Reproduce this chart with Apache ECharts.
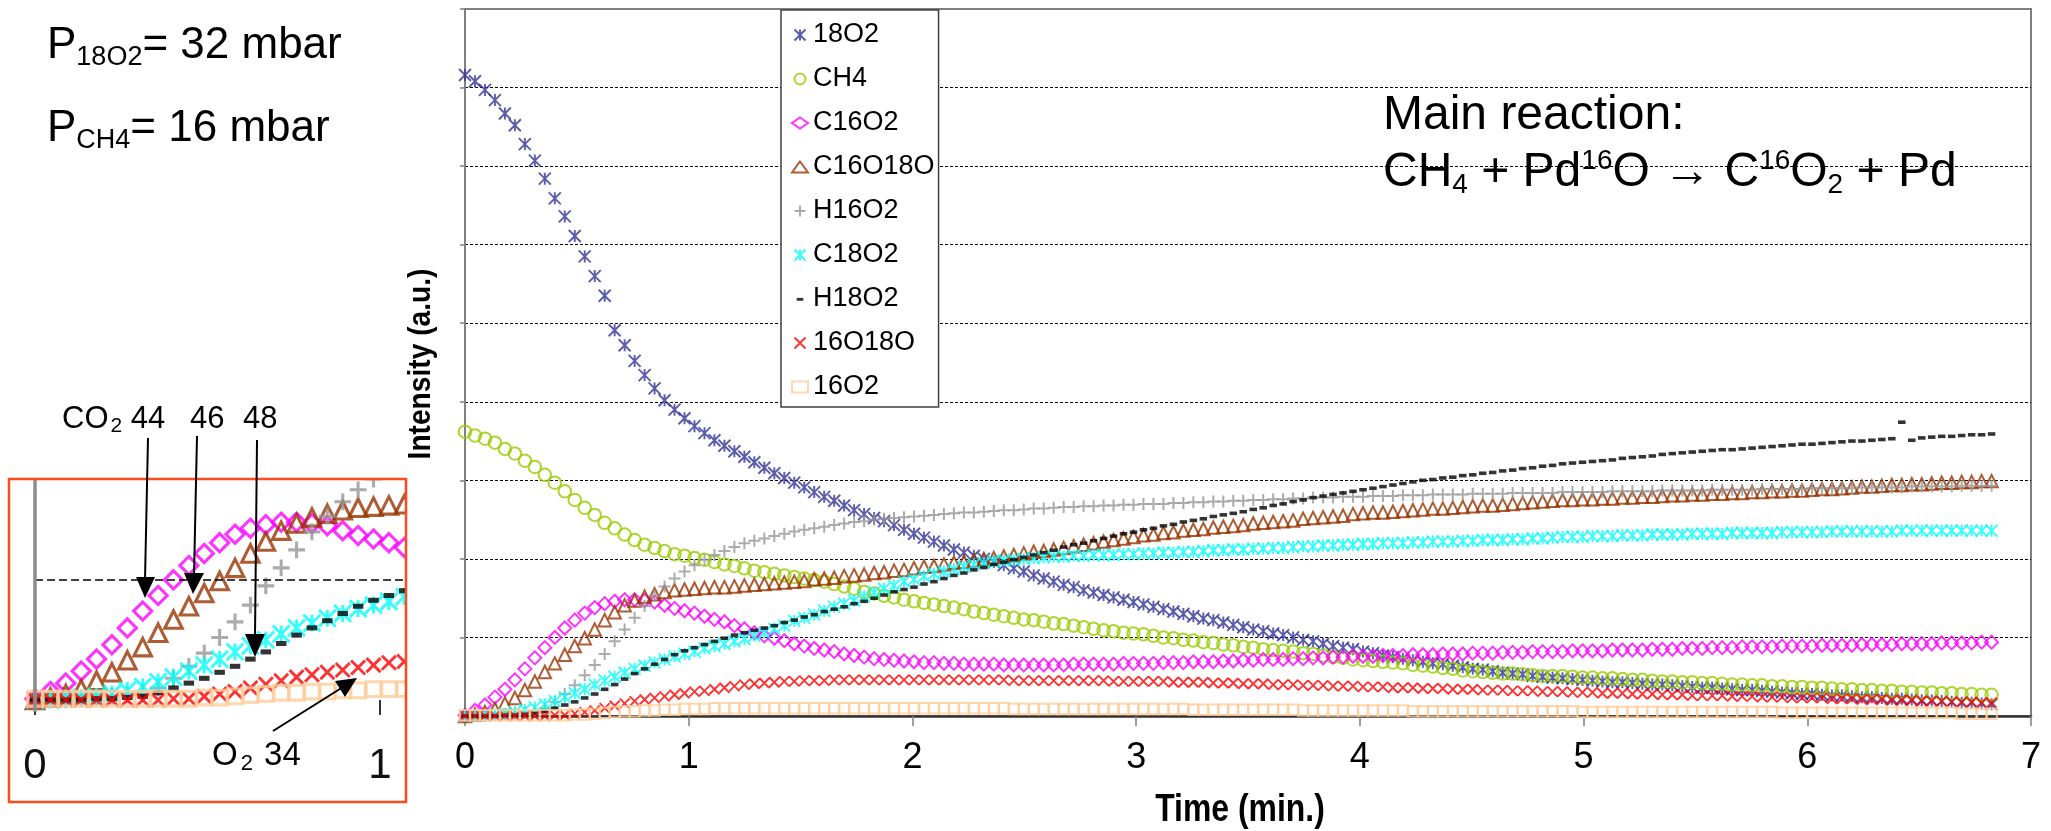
<!DOCTYPE html>
<html>
<head>
<meta charset="utf-8">
<script src="https://cdn.jsdelivr.net/npm/echarts@6.0.0/dist/echarts.min.js"></script>
<style>
  html, body { margin: 0; padding: 0; background: #fff; }
  #chart { width: 2051px; height: 831px; }
</style>
</head>
<body>
<div id="chart"></div>
<script>
// Mass-spectrometer signals recorded every ~2.7 s (0.0446 min) during CH4 oxidation on Pd18O/Pd16O
const sampleStepMin = 0.0446;

const seriesNames = ['18O2', 'CH4', 'C16O2', 'C16O18O', 'H16O2', 'C18O2', 'H18O2', '16O18O', '16O2'];

const o18O2 = [8.16,8.08,7.97,7.84,7.67,7.52,7.28,7.07,6.84,6.59,
  6.36,6.11,5.85,5.60,5.35,4.91,4.72,4.52,4.34,4.17,
  4.02,3.90,3.79,3.69,3.60,3.51,3.44,3.37,3.30,3.23,
  3.16,3.09,3.03,2.97,2.91,2.85,2.79,2.74,2.68,2.62,
  2.57,2.52,2.48,2.43,2.37,2.32,2.27,2.22,2.17,2.12,
  2.08,2.04,2.00,1.96,1.92,1.88,1.84,1.79,1.75,1.71,
  1.67,1.64,1.60,1.57,1.54,1.51,1.48,1.45,1.42,1.39,
  1.36,1.33,1.30,1.27,1.24,1.22,1.19,1.16,1.13,1.10,
  1.08,1.05,1.03,1.00,0.97,0.95,0.92,0.89,0.87,0.85,
  0.82,0.80,0.77,0.75,0.73,0.71,0.69,0.67,0.66,0.64,
  0.62,0.60,0.59,0.57,0.55,0.54,0.53,0.51,0.50,0.49,
  0.48,0.47,0.46,0.45,0.44,0.43,0.43,0.42,0.41,0.40,
  0.40,0.39,0.38,0.37,0.36,0.36,0.35,0.34,0.33,0.33,
  0.32,0.31,0.30,0.29,0.28,0.28,0.27,0.26,0.26,0.25,
  0.24,0.24,0.23,0.22,0.22,0.21,0.20,0.20,0.19,0.18,
  0.17,0.17,0.16,0.15];

const ch4 = [3.62,3.57,3.53,3.48,3.40,3.34,3.25,3.17,3.07,2.97,
  2.86,2.75,2.65,2.56,2.46,2.39,2.31,2.24,2.18,2.14,
  2.10,2.06,2.04,2.01,1.99,1.96,1.93,1.91,1.88,1.85,
  1.83,1.81,1.79,1.77,1.75,1.73,1.71,1.68,1.65,1.62,
  1.58,1.56,1.53,1.51,1.48,1.46,1.44,1.42,1.40,1.38,
  1.36,1.33,1.31,1.29,1.27,1.25,1.23,1.22,1.20,1.18,
  1.17,1.15,1.13,1.11,1.09,1.08,1.06,1.05,1.04,1.02,
  1.00,0.99,0.97,0.96,0.94,0.93,0.91,0.90,0.88,0.87,
  0.85,0.84,0.83,0.82,0.80,0.79,0.77,0.75,0.74,0.72,
  0.71,0.70,0.69,0.68,0.67,0.65,0.64,0.63,0.61,0.60,
  0.58,0.57,0.56,0.55,0.54,0.54,0.53,0.52,0.51,0.51,
  0.51,0.50,0.49,0.49,0.48,0.48,0.47,0.46,0.46,0.45,
  0.44,0.44,0.43,0.43,0.42,0.42,0.41,0.40,0.40,0.39,
  0.39,0.38,0.38,0.37,0.37,0.36,0.36,0.35,0.34,0.34,
  0.33,0.33,0.32,0.32,0.31,0.31,0.30,0.30,0.29,0.29,
  0.28,0.28,0.27,0.27];

const c16O2 = [0.01,0.07,0.14,0.24,0.34,0.46,0.60,0.74,0.87,1.00,
  1.12,1.22,1.31,1.38,1.43,1.46,1.48,1.48,1.47,1.45,
  1.41,1.37,1.34,1.31,1.27,1.23,1.20,1.15,1.11,1.06,
  1.02,0.99,0.96,0.92,0.89,0.86,0.84,0.82,0.79,0.77,
  0.75,0.73,0.72,0.71,0.70,0.69,0.68,0.68,0.67,0.67,
  0.66,0.66,0.66,0.66,0.65,0.65,0.65,0.65,0.65,0.65,
  0.65,0.66,0.66,0.66,0.66,0.66,0.67,0.67,0.67,0.67,
  0.68,0.68,0.68,0.69,0.69,0.69,0.70,0.70,0.71,0.71,
  0.72,0.72,0.72,0.73,0.73,0.74,0.74,0.75,0.75,0.76,
  0.76,0.76,0.77,0.77,0.77,0.78,0.78,0.78,0.79,0.79,
  0.79,0.80,0.80,0.80,0.81,0.81,0.81,0.82,0.82,0.82,
  0.82,0.83,0.83,0.83,0.83,0.84,0.84,0.84,0.84,0.85,
  0.85,0.85,0.86,0.86,0.86,0.87,0.87,0.87,0.88,0.88,
  0.88,0.88,0.89,0.89,0.89,0.89,0.90,0.90,0.90,0.90,
  0.91,0.91,0.91,0.91,0.92,0.92,0.92,0.92,0.93,0.93,
  0.93,0.93,0.94,0.94];

const c16O18O = [0.00,0.02,0.05,0.09,0.16,0.23,0.33,0.44,0.56,0.67,
  0.78,0.89,0.99,1.10,1.22,1.32,1.41,1.47,1.52,1.55,
  1.58,1.60,1.61,1.62,1.63,1.64,1.64,1.65,1.66,1.67,
  1.68,1.69,1.70,1.71,1.72,1.74,1.75,1.76,1.78,1.79,
  1.80,1.82,1.83,1.85,1.86,1.88,1.90,1.91,1.93,1.95,
  1.96,1.98,2.00,2.01,2.03,2.05,2.07,2.09,2.10,2.12,
  2.14,2.16,2.18,2.20,2.22,2.24,2.26,2.28,2.30,2.31,
  2.33,2.34,2.36,2.37,2.38,2.40,2.41,2.42,2.43,2.45,
  2.46,2.47,2.48,2.49,2.51,2.52,2.53,2.54,2.55,2.57,
  2.58,2.59,2.59,2.60,2.61,2.62,2.63,2.64,2.64,2.65,
  2.66,2.67,2.68,2.68,2.69,2.70,2.71,2.72,2.73,2.74,
  2.75,2.75,2.76,2.76,2.77,2.77,2.78,2.78,2.79,2.79,
  2.80,2.81,2.81,2.82,2.82,2.83,2.83,2.84,2.84,2.85,
  2.85,2.86,2.86,2.87,2.87,2.88,2.89,2.89,2.90,2.91,
  2.92,2.92,2.93,2.94,2.94,2.95,2.95,2.96,2.97,2.97,
  2.98,2.98,2.99,2.99];

const h16O2 = [0.00,0.00,0.00,0.01,0.02,0.03,0.04,0.06,0.10,0.18,
  0.28,0.39,0.52,0.65,0.79,0.95,1.10,1.25,1.40,1.53,
  1.65,1.75,1.84,1.92,1.99,2.05,2.10,2.15,2.20,2.23,
  2.26,2.29,2.32,2.35,2.37,2.39,2.41,2.43,2.45,2.47,
  2.48,2.50,2.51,2.52,2.53,2.54,2.55,2.56,2.57,2.58,
  2.59,2.59,2.60,2.61,2.62,2.62,2.63,2.64,2.64,2.65,
  2.66,2.66,2.67,2.67,2.68,2.68,2.69,2.69,2.70,2.70,
  2.70,2.71,2.71,2.72,2.72,2.73,2.73,2.74,2.74,2.75,
  2.75,2.76,2.76,2.77,2.77,2.78,2.78,2.78,2.79,2.79,
  2.79,2.80,2.80,2.80,2.81,2.81,2.81,2.82,2.82,2.82,
  2.82,2.83,2.83,2.83,2.83,2.84,2.84,2.84,2.84,2.84,
  2.85,2.85,2.85,2.85,2.85,2.86,2.86,2.86,2.86,2.86,
  2.87,2.87,2.87,2.87,2.87,2.88,2.88,2.88,2.88,2.88,
  2.89,2.89,2.89,2.89,2.89,2.90,2.90,2.90,2.90,2.90,
  2.91,2.91,2.91,2.91,2.91,2.92,2.92,2.92,2.92,2.92,
  2.93,2.93,2.93,2.93];

const c18O2 = [0.00,0.00,0.01,0.02,0.03,0.05,0.08,0.11,0.15,0.19,
  0.24,0.29,0.34,0.40,0.45,0.50,0.55,0.60,0.64,0.68,
  0.72,0.76,0.79,0.82,0.86,0.89,0.92,0.95,0.98,1.02,
  1.06,1.11,1.15,1.21,1.25,1.29,1.34,1.39,1.43,1.47,
  1.52,1.57,1.62,1.66,1.71,1.74,1.78,1.81,1.84,1.87,
  1.90,1.93,1.95,1.97,1.98,1.99,2.00,2.01,2.02,2.03,
  2.03,2.04,2.04,2.05,2.05,2.05,2.06,2.06,2.07,2.07,
  2.08,2.08,2.09,2.09,2.10,2.11,2.11,2.12,2.12,2.13,
  2.13,2.14,2.14,2.15,2.16,2.16,2.17,2.17,2.18,2.18,
  2.19,2.19,2.20,2.20,2.20,2.21,2.21,2.22,2.22,2.22,
  2.23,2.23,2.24,2.24,2.24,2.25,2.25,2.26,2.26,2.27,
  2.28,2.28,2.28,2.29,2.29,2.29,2.30,2.30,2.30,2.31,
  2.31,2.31,2.31,2.32,2.32,2.32,2.32,2.33,2.33,2.33,
  2.33,2.33,2.34,2.34,2.34,2.34,2.34,2.35,2.35,2.35,
  2.35,2.35,2.35,2.35,2.36,2.36,2.36,2.36,2.36,2.36,
  2.36,2.36,2.36,2.36];

const h18O2 = [0.00,0.00,0.00,0.00,0.01,0.01,0.02,0.03,0.06,0.10,
  0.14,0.18,0.23,0.28,0.34,0.40,0.47,0.54,0.60,0.66,
  0.72,0.78,0.83,0.87,0.91,0.95,0.99,1.03,1.06,1.09,
  1.12,1.15,1.19,1.22,1.26,1.29,1.33,1.36,1.39,1.43,
  1.46,1.50,1.54,1.58,1.61,1.64,1.68,1.71,1.75,1.79,
  1.82,1.86,1.89,1.93,1.96,1.99,2.02,2.05,2.08,2.11,
  2.15,2.18,2.20,2.23,2.26,2.29,2.32,2.34,2.37,2.39,
  2.42,2.44,2.47,2.49,2.51,2.54,2.56,2.58,2.60,2.63,
  2.65,2.68,2.70,2.73,2.75,2.78,2.80,2.82,2.84,2.86,
  2.88,2.90,2.92,2.94,2.96,2.98,3.00,3.01,3.03,3.04,
  3.06,3.07,3.09,3.10,3.12,3.13,3.15,3.16,3.18,3.19,
  3.21,3.22,3.23,3.24,3.25,3.26,3.28,3.29,3.30,3.31,
  3.33,3.34,3.35,3.36,3.37,3.38,3.39,3.39,3.40,3.41,
  3.42,3.43,3.44,3.45,3.46,3.46,3.47,3.48,3.49,3.50,
  3.50,3.51,3.52,3.53,3.74,3.51,3.54,3.55,3.56,3.56,
  3.57,3.58,3.58,3.59];

const o16O18O = [0.00,0.00,0.00,0.00,0.00,0.00,0.00,0.00,0.00,0.01,
  0.01,0.03,0.05,0.07,0.10,0.13,0.16,0.19,0.21,0.23,
  0.25,0.27,0.29,0.31,0.32,0.34,0.36,0.38,0.40,0.41,
  0.42,0.43,0.44,0.44,0.45,0.45,0.45,0.46,0.46,0.46,
  0.46,0.46,0.46,0.46,0.46,0.46,0.46,0.46,0.46,0.46,
  0.46,0.46,0.46,0.46,0.46,0.45,0.45,0.45,0.45,0.45,
  0.45,0.45,0.45,0.45,0.45,0.44,0.44,0.44,0.44,0.44,
  0.44,0.43,0.43,0.43,0.43,0.42,0.42,0.42,0.41,0.41,
  0.41,0.40,0.40,0.40,0.39,0.39,0.39,0.38,0.38,0.38,
  0.37,0.37,0.37,0.36,0.36,0.36,0.35,0.35,0.35,0.34,
  0.34,0.34,0.33,0.33,0.33,0.32,0.32,0.32,0.31,0.31,
  0.31,0.30,0.30,0.30,0.29,0.29,0.29,0.28,0.28,0.28,
  0.27,0.27,0.27,0.26,0.26,0.26,0.26,0.25,0.25,0.25,
  0.24,0.24,0.24,0.23,0.23,0.23,0.23,0.22,0.22,0.22,
  0.21,0.21,0.21,0.20,0.20,0.20,0.19,0.19,0.19,0.18,
  0.18,0.18,0.17,0.17];

const o16O2 = [0.01,0.01,0.01,0.01,0.01,0.01,0.01,0.01,0.01,0.01,
  0.01,0.02,0.02,0.03,0.04,0.05,0.06,0.06,0.07,0.07,
  0.08,0.08,0.09,0.09,0.09,0.10,0.10,0.10,0.10,0.10,
  0.10,0.10,0.10,0.10,0.10,0.10,0.10,0.10,0.10,0.10,
  0.10,0.10,0.10,0.10,0.10,0.10,0.10,0.10,0.10,0.10,
  0.10,0.10,0.10,0.10,0.10,0.09,0.09,0.09,0.09,0.09,
  0.09,0.09,0.09,0.09,0.09,0.09,0.09,0.09,0.09,0.09,
  0.09,0.09,0.09,0.08,0.08,0.08,0.08,0.08,0.08,0.08,
  0.08,0.08,0.08,0.08,0.07,0.07,0.07,0.07,0.07,0.07,
  0.07,0.07,0.07,0.07,0.07,0.06,0.06,0.06,0.06,0.06,
  0.06,0.06,0.06,0.06,0.06,0.06,0.06,0.06,0.06,0.06,
  0.06,0.06,0.05,0.05,0.05,0.05,0.05,0.05,0.05,0.05,
  0.05,0.05,0.05,0.05,0.05,0.05,0.05,0.05,0.05,0.05,
  0.05,0.05,0.04,0.04,0.04,0.04,0.04,0.04,0.04,0.04,
  0.04,0.04,0.04,0.04,0.04,0.04,0.04,0.04,0.04,0.04,
  0.03,0.03,0.03,0.03];

const xTickLabels = ['0', '1', '2', '3', '4', '5', '6', '7'];

const seriesValues = [o18O2, ch4, c16O2, c16O18O, h16O2, c18O2, h18O2, o16O18O, o16O2];
const timeMin = o18O2.map((_, i) => +(i * sampleStepMin).toFixed(4));

// ---- presentation ----
const FONT = '"Liberation Sans", Arial, Helvetica, sans-serif';

const SYM_ASTER = 'path://M0,0L10,10M10,0L0,10M5,0L5,10';
const SYM_PLUS = 'path://M5,0L5,10M0,5L10,5';
const SYM_X = 'path://M0,0L10,10M10,0L0,10';
const ICON_DASH = 'path://M0,0L0,0M10,10L10,10M2,4L8,4L8,6.6L2,6.6Z';

const markerStyles = [
  { sym: SYM_ASTER,  icon: SYM_ASTER, size: 12,        color: '#333399', hollow: true,  bw: 1.9 },
  { sym: 'circle',   icon: 'circle',  size: 12.5,      color: '#99CC00', hollow: true,  bw: 2 },
  { sym: 'diamond',  icon: 'diamond', size: 13,        color: '#FF00FF', hollow: true,  bw: 2 },
  { sym: 'triangle', icon: 'triangle',size: 12.5,      color: '#993300', hollow: true,  bw: 2 },
  { sym: SYM_PLUS,   icon: SYM_PLUS,  size: 12,        color: '#969696', hollow: true,  bw: 2 },
  { sym: SYM_ASTER,  icon: SYM_ASTER, size: 12,        color: '#00FFFF', hollow: true,  bw: 1.9 },
  { sym: 'rect',     icon: ICON_DASH, size: [7.5, 3.6],color: '#000000', hollow: false, bw: 0 },
  { sym: SYM_X,      icon: SYM_X,     size: 10,        color: '#FF0000', hollow: true,  bw: 1.9 },
  { sym: 'rect',     icon: 'rect',    size: 10.5,      color: '#FFCC99', hollow: true,  bw: 2 }
];

// main plot area and magnified inset area (pixels)
const MAIN = { left: 465, top: 9, right: 20, bottom: 115 };
const INSET = { left: 9, top: 479, width: 397, height: 323 };
const insetX = [-0.0754, 1.0754];
const insetY = [-0.85, 1.84];
// pixel distance from the inset's bottom edge up to its zero line
const insetZeroOffset = INSET.height * (0 - insetY[0]) / (insetY[1] - insetY[0]);

function buildSeries(axisIndex, scale, withGuides) {
  return seriesNames.map((name, k) => {
    const st = markerStyles[k];
    const size = Array.isArray(st.size) ? st.size.map(v => v * scale) : st.size * scale;
    const s = {
      type: 'scatter',
      name: name,
      xAxisIndex: axisIndex,
      yAxisIndex: axisIndex,
      data: timeMin.map((t, i) => [t, seriesValues[k][i]]),
      symbol: st.sym,
      symbolSize: size,
      itemStyle: st.hollow
        ? { color: 'rgba(0,0,0,0)', borderColor: st.color, borderWidth: st.bw * (scale > 1 ? 1.55 : 1) }
        : { color: st.color, borderWidth: 0 },
      silent: true,
      animation: false,
      emphasis: { disabled: true },
      clip: true
    };
    if (withGuides && k === 0) {
      s.markLine = {
        silent: true,
        animation: false,
        symbol: ['none', 'none'],
        label: { show: false },
        emphasis: { disabled: true },
        data: [
          [{ coord: [0, 1], lineStyle: { type: [8, 4], color: '#000', width: 1.6 } }, { coord: [insetX[1], 1] }],
          [{ coord: [0, -0.1], lineStyle: { type: 'solid', color: '#8c8c8c', width: 3.5 } }, { coord: [0, insetY[1]] }]
        ]
      };
    }
    return s;
  });
}

const subStyle = (size, lh, extra) => Object.assign({ fontSize: size, fontFamily: FONT, fill: '#000', lineHeight: lh }, extra || {});

const graphics = [
  // partial pressures
  { type: 'text', x: 47, y: 46, z: 60, style: {
      text: '{b|P}{s|18O2}{b|= 32 mbar}', verticalAlign: 'middle',
      rich: { b: subStyle(44, 50), s: subStyle(27, 13, { verticalAlign: 'bottom' }) } } },
  { type: 'text', x: 47, y: 129, z: 60, style: {
      text: '{b|P}{s|CH4}{b|= 16 mbar}', verticalAlign: 'middle',
      rich: { b: subStyle(44, 50), s: subStyle(27, 13, { verticalAlign: 'bottom' }) } } },
  // reaction text
  { type: 'text', x: 1383, y: 116, z: 60, style: { text: 'Main reaction:', font: '48px ' + FONT, fill: '#000', verticalAlign: 'middle' } },
  { type: 'text', x: 1383, y: 173, z: 60, style: {
      text: '{b|CH}{s|4}{b| + Pd}{p|16}{b|O \u2192 C}{p|16}{b|O}{s|2}{b| + Pd}', verticalAlign: 'middle',
      rich: {
        b: subStyle(48, 52),
        s: subStyle(28, 4, { verticalAlign: 'bottom' }),
        p: subStyle(28, 34, { verticalAlign: 'top' })
      } } },
  // axis titles (condensed bold lettering)
  { type: 'text', x: 1240, y: 811, z: 60, scaleX: 0.84, style: {
      text: 'Time (min.)', font: 'bold 38px ' + FONT, fill: '#000', align: 'center', verticalAlign: 'middle' } },
  { type: 'text', x: 421, y: 364, z: 60, rotation: Math.PI / 2, scaleX: 0.88, style: {
      text: 'Intensity (a.u.)', font: 'bold 32px ' + FONT, fill: '#000', align: 'center', verticalAlign: 'middle' } },
  // masks trimming markers that spill past the inset frame
  { type: 'rect', z: 50, silent: true, shape: { x: 407, y: 463, width: 33, height: 350 }, style: { fill: '#fff' } },
  { type: 'rect', z: 50, silent: true, shape: { x: 0, y: 463, width: 440, height: 15 }, style: { fill: '#fff' } },
  // inset frame
  { type: 'rect', z: 51, silent: true, shape: { x: INSET.left, y: INSET.top, width: INSET.width, height: INSET.height },
    style: { fill: 'none', stroke: '#FF4A1A', lineWidth: 2.5 } },
  // inset annotations
  { type: 'text', x: 62, y: 419, z: 60, style: {
      text: '{b|CO}{s|2}{b| 44}', verticalAlign: 'middle',
      rich: { b: subStyle(31, 36), s: subStyle(21, 4, { verticalAlign: 'bottom', padding: [0, 0, 0, 2] }) } } },
  { type: 'text', x: 190, y: 419, z: 60, style: { text: '46', font: '31px ' + FONT, fill: '#000', verticalAlign: 'middle' } },
  { type: 'text', x: 243, y: 419, z: 60, style: { text: '48', font: '31px ' + FONT, fill: '#000', verticalAlign: 'middle' } },
  { type: 'text', x: 212, y: 756, z: 60, style: {
      text: '{b|O}{s|2}{b| 34}', verticalAlign: 'middle',
      rich: { b: subStyle(33, 38), s: subStyle(22, 4, { verticalAlign: 'bottom', padding: [0, 2, 0, 3] }) } } }
];

// arrows: shaft [x1, y1, x2, y2] and head triangle
const arrows = [
  { shaft: [148, 438, 145, 580], head: [[136, 577], [155, 577], [145, 598]] },
  { shaft: [197, 436, 194, 576], head: [[184, 573], [204, 573], [193, 594]] },
  { shaft: [257, 440, 255, 637], head: [[245, 634], [265, 634], [255, 657]] },
  { shaft: [273, 731, 343, 687], head: [[345, 697], [335, 681], [357, 678]] }
];
arrows.forEach(a => {
  graphics.push({ type: 'line', z: 60, silent: true,
    shape: { x1: a.shaft[0], y1: a.shaft[1], x2: a.shaft[2], y2: a.shaft[3] },
    style: { stroke: '#000', lineWidth: 2 } });
  graphics.push({ type: 'polygon', z: 60, silent: true, shape: { points: a.head }, style: { fill: '#000' } });
});

const option = {
  backgroundColor: '#fff',
  animation: false,
  grid: [
    { left: MAIN.left, top: MAIN.top, right: MAIN.right, bottom: MAIN.bottom, outerBoundsMode: 'none',
      show: true, borderColor: '#808080', borderWidth: 2, backgroundColor: 'transparent' },
    { left: INSET.left, top: INSET.top, width: INSET.width, height: INSET.height, outerBoundsMode: 'none', show: false }
  ],
  xAxis: [
    { gridIndex: 0, type: 'value', min: 0, max: 7, interval: 1,
      axisLine: { show: true, onZero: false, lineStyle: { color: '#333', width: 2.5 } },
      axisTick: { show: true, length: 10, lineStyle: { color: '#808080', width: 1.5 } },
      axisLabel: { show: true, margin: 24, fontFamily: FONT, fontSize: 36, color: '#000',
                   formatter: v => xTickLabels[Math.round(v)] ?? '' },
      splitLine: { show: false } },
    { gridIndex: 1, type: 'value', min: insetX[0], max: insetX[1],
      position: 'bottom', offset: -insetZeroOffset,
      axisLine: { show: false, onZero: false },
      axisTick: { show: true, customValues: [0, 1], length: 15, lineStyle: { color: '#333', width: 2 } },
      axisLabel: { show: true, customValues: [0, 1], margin: 45, fontFamily: FONT, fontSize: 42, color: '#111',
                   formatter: v => xTickLabels[Math.round(v)] ?? '' },
      splitLine: { show: false } }
  ],
  yAxis: [
    { gridIndex: 0, type: 'value', min: 0, max: 9, interval: 1,
      axisLine: { show: true, onZero: false, lineStyle: { color: '#808080', width: 2 } },
      axisTick: { show: true, length: 5, lineStyle: { color: '#808080', width: 1.5 } },
      axisLabel: { show: false },
      splitLine: { show: true, showMaxLine: false, showMinLine: false, lineStyle: { color: '#000', width: 1, type: [3, 2] } } },
    { gridIndex: 1, type: 'value', min: insetY[0], max: insetY[1],
      axisLine: { show: false }, axisTick: { show: false }, axisLabel: { show: false }, splitLine: { show: false } }
  ],
  legend: {
    show: true, orient: 'vertical', left: 781, top: 10,
    data: seriesNames.map((n, k) => ({ name: n, icon: markerStyles[k].icon })),
    itemWidth: 16, itemHeight: 11, itemGap: 14,
    padding: [10, 4, 5, 10],
    backgroundColor: '#fff', borderColor: '#404040', borderWidth: 1.5,
    selectedMode: false,
    textStyle: { fontFamily: FONT, fontSize: 27, color: '#000', lineHeight: 30 }
  },
  series: buildSeries(0, 1, false).concat(buildSeries(1, 1.4, true)),
  graphic: graphics
};

const chart = echarts.init(document.getElementById('chart'), null, { renderer: 'canvas', width: 2051, height: 831 });
chart.setOption(option);
</script>
</body>
</html>
